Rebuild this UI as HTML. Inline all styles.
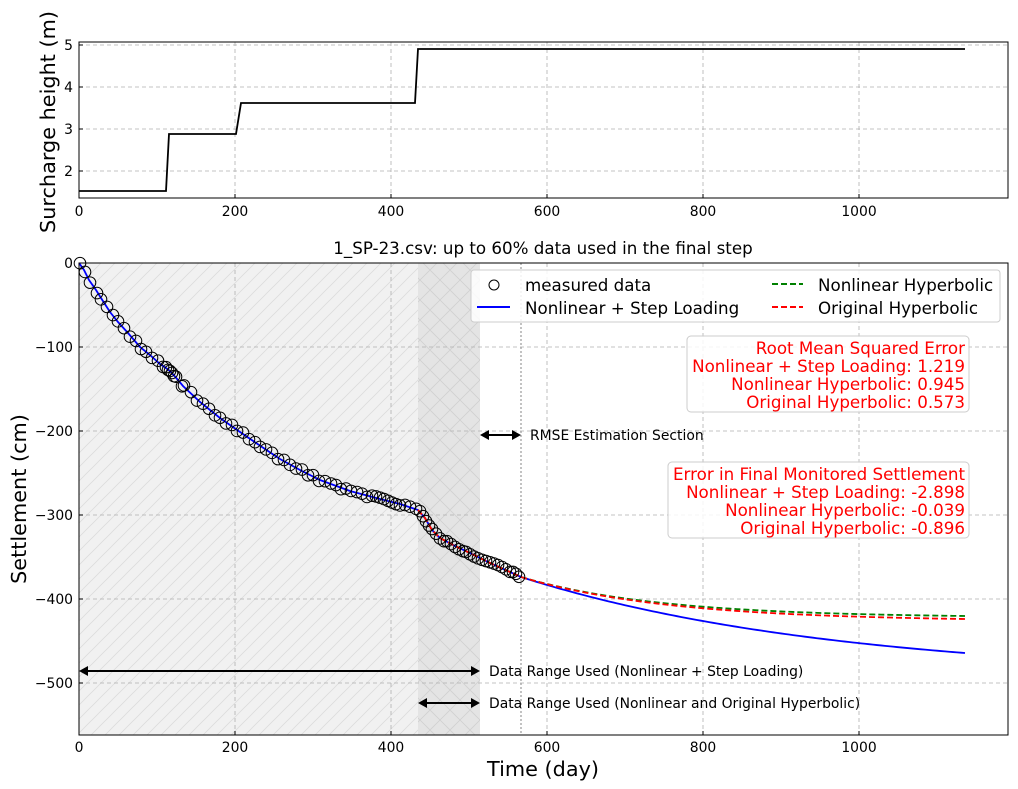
<!DOCTYPE html>
<html><head><meta charset="utf-8"><style>
body{margin:0;background:#fff}
svg{display:block;font-family:"DejaVu Sans","Liberation Sans",sans-serif}
</style></head><body>
<svg id="s" width="1018" height="789" viewBox="0 0 1018 789" xmlns="http://www.w3.org/2000/svg">
<defs>
<pattern id="h1" width="14" height="14" patternUnits="userSpaceOnUse"><path d="M0 14L14 0M-3 3L3 -3M11 17L17 11" stroke="#dcdcdc" stroke-width="0.8"/></pattern>
<pattern id="h2" width="20" height="20" patternUnits="userSpaceOnUse"><path d="M0 20L20 0M0 0L20 20" stroke="#d0d0d0" stroke-width="0.8"/></pattern>
<clipPath id="c2"><rect x="79" y="263" width="929" height="472"/></clipPath>
</defs>
<rect width="1018" height="789" fill="#fff"/>
<g stroke="#b0b0b0" stroke-dasharray="4,3" stroke-width="0.8">
<line x1="235" y1="42" x2="235" y2="198"/><line x1="391" y1="42" x2="391" y2="198"/><line x1="547" y1="42" x2="547" y2="198"/><line x1="703" y1="42" x2="703" y2="198"/><line x1="859" y1="42" x2="859" y2="198"/>
<line x1="79" y1="45" x2="1008" y2="45"/><line x1="79" y1="87" x2="1008" y2="87"/><line x1="79" y1="129" x2="1008" y2="129"/><line x1="79" y1="171" x2="1008" y2="171"/>
</g>
<polyline fill="none" stroke="#000" stroke-width="1.8" points="79,191 166,191 169,134 236,134 241,103 415,103 418,49 965,49"/>
<rect x="79" y="42" width="929" height="156" fill="none" stroke="#000" stroke-width="1"/>
<g stroke="#000"><line x1="235" y1="198" x2="235" y2="194"/><line x1="391" y1="198" x2="391" y2="194"/><line x1="547" y1="198" x2="547" y2="194"/><line x1="703" y1="198" x2="703" y2="194"/><line x1="859" y1="198" x2="859" y2="194"/>
<line x1="79" y1="45" x2="83" y2="45"/><line x1="79" y1="87" x2="83" y2="87"/><line x1="79" y1="129" x2="83" y2="129"/><line x1="79" y1="171" x2="83" y2="171"/></g>
<g font-size="13.9" fill="#000">
<text x="79" y="216" text-anchor="middle">0</text><text x="235" y="216" text-anchor="middle">200</text><text x="391" y="216" text-anchor="middle">400</text><text x="547" y="216" text-anchor="middle">600</text><text x="703" y="216" text-anchor="middle">800</text><text x="859" y="216" text-anchor="middle">1000</text>
<text x="73" y="50" text-anchor="end">5</text><text x="73" y="92" text-anchor="end">4</text><text x="73" y="134" text-anchor="end">3</text><text x="73" y="176" text-anchor="end">2</text>
</g>
<text transform="translate(55,122) rotate(-90)" font-size="20.8" text-anchor="middle">Surcharge height (m)</text>

<rect x="79" y="263" width="339" height="472" fill="#f1f1f1"/>
<rect x="79" y="263" width="339" height="472" fill="url(#h1)"/>
<rect x="418" y="263" width="62" height="472" fill="#e4e4e4"/>
<rect x="418" y="263" width="62" height="472" fill="url(#h2)"/>
<g stroke="#b0b0b0" stroke-dasharray="4,3" stroke-width="0.8">
<line x1="235" y1="263" x2="235" y2="735"/><line x1="391" y1="263" x2="391" y2="735"/><line x1="547" y1="263" x2="547" y2="735"/><line x1="703" y1="263" x2="703" y2="735"/><line x1="859" y1="263" x2="859" y2="735"/>
<line x1="79" y1="347" x2="1008" y2="347"/><line x1="79" y1="431" x2="1008" y2="431"/><line x1="79" y1="515" x2="1008" y2="515"/><line x1="79" y1="599" x2="1008" y2="599"/><line x1="79" y1="683" x2="1008" y2="683"/>
</g>
<line x1="521" y1="263" x2="521" y2="735" stroke="#999" stroke-dasharray="2,2" stroke-width="1.2"/>
<g id="curves" clip-path="url(#c2)"></g>
<g id="marks"></g>
<rect x="471" y="270" width="529" height="52" rx="3" fill="#fff" fill-opacity="0.85" stroke="#ccc"/>
<circle cx="494" cy="285" r="5" fill="none" stroke="#000"/>
<line x1="477" y1="307" x2="510" y2="307" stroke="#00f" stroke-width="2"/>
<line x1="772" y1="284" x2="803" y2="284" stroke="green" stroke-width="2" stroke-dasharray="6,3"/>
<line x1="772" y1="307" x2="803" y2="307" stroke="red" stroke-width="2" stroke-dasharray="6,3"/>
<g font-size="16.7"><text x="525" y="291">measured data</text><text x="525" y="314">Nonlinear + Step Loading</text><text x="818" y="291">Nonlinear Hyperbolic</text><text x="818" y="314">Original Hyperbolic</text></g>
<rect x="687" y="336" width="282" height="76" rx="4" fill="#fff" fill-opacity="0.85" stroke="#ccc"/>
<g font-size="16.7" fill="red" text-anchor="end"><text x="965" y="354">Root Mean Squared Error</text><text x="965" y="372">Nonlinear + Step Loading: 1.219</text><text x="965" y="390">Nonlinear Hyperbolic: 0.945</text><text x="965" y="408">Original Hyperbolic: 0.573</text></g>
<rect x="668" y="462" width="301" height="76" rx="4" fill="#fff" fill-opacity="0.85" stroke="#ccc"/>
<g font-size="16.7" fill="red" text-anchor="end"><text x="965" y="480">Error in Final Monitored Settlement</text><text x="965" y="498">Nonlinear + Step Loading: -2.898</text><text x="965" y="516">Nonlinear Hyperbolic: -0.039</text><text x="965" y="534">Original Hyperbolic: -0.896</text></g>
<g stroke="#000" stroke-width="2" fill="#000">
<line x1="486" y1="435" x2="515" y2="435"/><path d="M480 435l9-5v10z M521 435l-9-5v10z" stroke="none"/>
<line x1="85" y1="671" x2="474" y2="671"/><path d="M79 671l9-5v10z M480 671l-9-5v10z" stroke="none"/>
<line x1="424" y1="703" x2="474" y2="703"/><path d="M418 703l9-5v10z M480 703l-9-5v10z" stroke="none"/>
</g>
<g font-size="13.9"><text x="530" y="440">RMSE Estimation Section</text><text x="489" y="676">Data Range Used (Nonlinear + Step Loading)</text><text x="489" y="708">Data Range Used (Nonlinear and Original Hyperbolic)</text></g>
<rect x="79" y="263" width="929" height="472" fill="none" stroke="#000" stroke-width="1"/>
<g stroke="#000"><line x1="235" y1="735" x2="235" y2="731"/><line x1="391" y1="735" x2="391" y2="731"/><line x1="547" y1="735" x2="547" y2="731"/><line x1="703" y1="735" x2="703" y2="731"/><line x1="859" y1="735" x2="859" y2="731"/>
<line x1="79" y1="347" x2="83" y2="347"/><line x1="79" y1="431" x2="83" y2="431"/><line x1="79" y1="515" x2="83" y2="515"/><line x1="79" y1="599" x2="83" y2="599"/><line x1="79" y1="683" x2="83" y2="683"/></g>
<g font-size="13.9">
<text x="79" y="752" text-anchor="middle">0</text><text x="235" y="752" text-anchor="middle">200</text><text x="391" y="752" text-anchor="middle">400</text><text x="547" y="752" text-anchor="middle">600</text><text x="703" y="752" text-anchor="middle">800</text><text x="859" y="752" text-anchor="middle">1000</text>
<text x="73" y="268" text-anchor="end">0</text><text x="73" y="352" text-anchor="end">−100</text><text x="73" y="436" text-anchor="end">−200</text><text x="73" y="520" text-anchor="end">−300</text><text x="73" y="604" text-anchor="end">−400</text><text x="73" y="688" text-anchor="end">−500</text>
</g>
<text x="543" y="254" font-size="16.7" text-anchor="middle">1_SP-23.csv: up to 60% data used in the final step</text>
<text x="543" y="776" font-size="20.8" text-anchor="middle">Time (day)</text>
<text transform="translate(26,499) rotate(-90)" font-size="20.8" text-anchor="middle">Settlement (cm)</text>
</svg>
<script>
var P=[[79,263],[84,270],[89,280],[96,290],[101,298],[110,312],[118,322],[128,333],[140,347],[150,355],[160,364],[166,368],[170,371],[178,380],[183,386],[200,402],[220,418],[240,432],[262,447],[280,459],[300,470],[320,480],[350,491],[380,499],[400,504],[418,510],[425,518],[432,530],[440,538],[455,546],[470,553],[490,563],[510,572],[521,577]];
function yAt(x){for(var i=1;i<P.length;i++){if(x<=P[i][0]){var a=P[i-1],b=P[i];return a[1]+(b[1]-a[1])*(x-a[0])/(b[0]-a[0]);}}return P[P.length-1][1];}
var ns="http://www.w3.org/2000/svg";
function pl(g,pts,col,dash){var e=document.createElementNS(ns,"polyline");e.setAttribute("points",pts.map(function(p){return p.join(",")}).join(" "));e.setAttribute("fill","none");e.setAttribute("stroke",col);e.setAttribute("stroke-width","1.8");if(dash)e.setAttribute("stroke-dasharray",dash);g.appendChild(e);}
var cg=document.getElementById("curves");
function tail(y0,yEnd,k){var r=[];for(var x=521;x<=965;x+=4){var t=(x-521)/444;r.push([x,y0+(yEnd-y0)*(1-Math.exp(-k*t))/(1-Math.exp(-k))]);}return r;}
var blue=P.slice().concat(tail(577,653,1.4));
pl(cg,blue,"#00f");
var green=P.slice(25).concat(tail(577,616,3.2));
var red=P.slice(25).concat(tail(577,619,3.0));
pl(cg,green,"green","6,3");pl(cg,red,"red","6,3");
var mg=document.getElementById("marks");
var xs=[80,85,90,97,101,107,113,118,124,130,136,141,146,152,158,163,166,168,170,172,174,176,182,184,191,197,203,209,215,220,226,232,237,243,249,255,260,266,272,278,284,290,296,302,308,313,319,325,331,336,341,346,351,357,362,367,372,376,380,384,388,392,396,400,405,410,416,420,423,426,429,432,436,440,444,447,451,455,459,463,466,470,474,478,482,486,490,494,498,502,506,510,513,516,519];
xs.forEach(function(x){var c=document.createElementNS(ns,"circle");c.setAttribute("cx",x);c.setAttribute("cy",yAt(x)+(Math.sin(x*1.7)*1.5));c.setAttribute("r","5.8");c.setAttribute("fill","none");c.setAttribute("stroke","#000");c.setAttribute("stroke-width","1");mg.appendChild(c);});
</script>
</body></html>
